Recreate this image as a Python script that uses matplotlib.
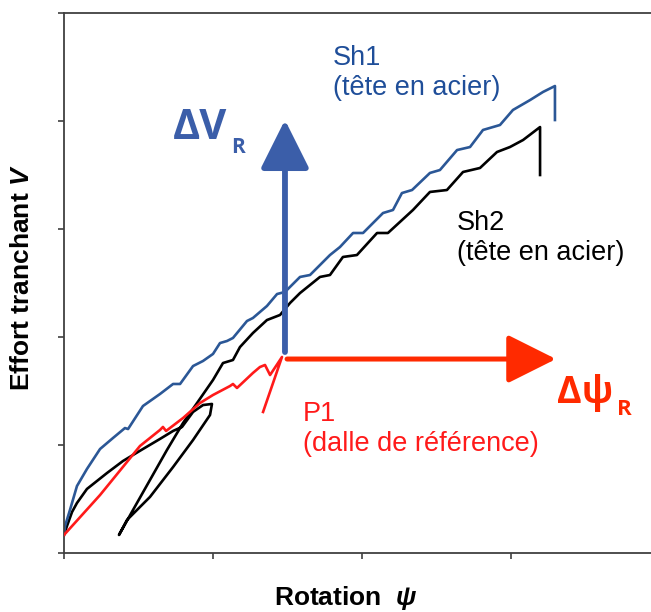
import matplotlib
matplotlib.use("Agg")
import matplotlib.pyplot as plt

plt.rcParams['font.family'] = ['Liberation Sans', 'DejaVu Sans']
plt.rcParams['mathtext.fontset'] = 'custom'
plt.rcParams['mathtext.rm'] = 'Liberation Sans'
plt.rcParams['mathtext.bf'] = 'Liberation Sans:bold'
plt.rcParams['mathtext.it'] = 'Liberation Sans:italic'
plt.rcParams['mathtext.bfit'] = 'Liberation Sans:bold:italic'

# courbes (rotation, effort) en unites de graduation
sh1_rot = [0.000, 0.007, 0.040, 0.087, 0.154, 0.242, 0.329, 0.409, 0.430, 0.530,
           0.644, 0.732, 0.779, 0.866, 0.933, 1.000, 1.047, 1.094, 1.134, 1.228,
           1.268, 1.362, 1.430, 1.483, 1.584, 1.651, 1.785, 1.852, 1.940, 2.007,
           2.141, 2.208, 2.268, 2.336, 2.456, 2.523, 2.638, 2.725, 2.812, 2.926,
           3.013, 3.128, 3.215, 3.295, 3.295]
sh1_eff = [0.167, 0.250, 0.398, 0.620, 0.778, 0.963, 1.065, 1.157, 1.148, 1.361,
           1.472, 1.565, 1.565, 1.731, 1.778, 1.843, 1.944, 1.963, 1.991, 2.148,
           2.176, 2.287, 2.398, 2.417, 2.556, 2.574, 2.759, 2.833, 2.963, 2.963,
           3.148, 3.176, 3.333, 3.361, 3.519, 3.546, 3.731, 3.759, 3.917, 3.963,
           4.102, 4.194, 4.269, 4.324, 4.009]

sh2_rot = [0.000, 0.020, 0.054, 0.087, 0.154, 0.289, 0.396, 0.530, 0.644, 0.732,
           0.792, 0.866, 0.933, 0.993, 0.980, 0.866, 0.732, 0.577, 0.423, 0.369,
           0.463, 0.577, 0.691, 0.799, 0.893, 1.000, 1.067, 1.134, 1.181, 1.268,
           1.362, 1.450, 1.517, 1.584, 1.718, 1.785, 1.872, 1.966, 2.101, 2.174,
           2.342, 2.456, 2.570, 2.678, 2.792, 2.906, 2.993, 3.081, 3.195, 3.195]
sh2_eff = [0.167, 0.250, 0.380, 0.463, 0.593, 0.741, 0.852, 0.963, 1.056, 1.130,
           1.167, 1.306, 1.370, 1.380, 1.278, 1.046, 0.796, 0.519, 0.306, 0.167,
           0.398, 0.676, 0.954, 1.204, 1.389, 1.602, 1.759, 1.787, 1.907, 2.037,
           2.157, 2.204, 2.315, 2.407, 2.556, 2.574, 2.741, 2.759, 2.963, 2.963,
           3.176, 3.343, 3.361, 3.528, 3.565, 3.713, 3.759, 3.824, 3.944, 3.500]

p1_rot = [0.000, 0.242, 0.510, 0.644, 0.664, 0.685, 0.799, 0.913, 1.000, 1.114,
          1.134, 1.161, 1.268, 1.315, 1.349, 1.383, 1.463, 1.336]
p1_eff = [0.167, 0.537, 0.991, 1.139, 1.167, 1.130, 1.250, 1.389, 1.463, 1.546,
          1.565, 1.528, 1.667, 1.722, 1.741, 1.648, 1.815, 1.306]

# fleches delta
dv_start = (1.483, 1.861)
dv_end = (1.483, 4.010)
dpsi_start = (1.497, 1.796)
dpsi_end = (3.302, 1.796)

BLUE = '#2b5796'
BLUE_TXT = '#1f4e99'
BLUE_ARR = '#3b5ea9'
RED = '#ff1a1a'
RED_ARR = '#ff2a00'

W, H = 651, 612
fig = plt.figure(figsize=(W / 100, H / 100), dpi=100)
ax = fig.add_axes([64 / W, (H - 553) / H, (W - 64) / W, 540 / H])
ax.set_xlim(0, 587 / 149)
ax.set_ylim(0, 5)

for s in ['left', 'bottom', 'top']:
    ax.spines[s].set_color('#404040')
    ax.spines[s].set_linewidth(1.3)
ax.spines['right'].set_visible(False)
ax.set_xticks([0, 1, 2, 3])
ax.set_yticks([0, 1, 2, 3, 4, 5])
ax.tick_params(direction='out', length=4.5, width=1.2, color='#404040',
               labelbottom=False, labelleft=False)

ax.plot(p1_rot, p1_eff, color=RED, lw=1.9, zorder=3)
ax.plot(sh2_rot, sh2_eff, color='black', lw=1.9, zorder=2)
ax.plot(sh1_rot, sh1_eff, color=BLUE, lw=1.9, zorder=2)

ax.annotate('', xy=dv_end, xytext=dv_start,
            arrowprops=dict(arrowstyle='-|>,head_length=1.0,head_width=0.5',
                            mutation_scale=30, lw=4.2, color=BLUE_ARR,
                            shrinkA=0, shrinkB=0))
ax.annotate('', xy=dpsi_end, xytext=dpsi_start,
            arrowprops=dict(arrowstyle='-|>,head_length=1.0,head_width=0.5',
                            mutation_scale=30, lw=3.6, color=RED_ARR,
                            shrinkA=0, shrinkB=0))


def px(x, y):
    return x / W, 1 - y / H


big = ['Open Sans', 'DejaVu Sans']
fig.text(*px(173, 139), 'ΔV', color=BLUE_ARR, fontsize=30, fontweight='bold',
         family=big, va='baseline')
fig.text(*px(231, 153), 'R', color=BLUE_ARR, fontsize=15, fontweight='bold',
         family=big, va='baseline')
fig.text(*px(557, 403), 'Δψ', color=RED_ARR, fontsize=27, fontweight='bold',
         family=big, va='baseline')
fig.text(*px(617, 415), 'R', color=RED_ARR, fontsize=16, fontweight='bold',
         family=big, va='baseline')

fig.text(*px(333, 95), 'Sh1\n(tête en acier)', color=BLUE_TXT, fontsize=19.5,
         va='baseline', linespacing=1.2)
fig.text(*px(457, 260), 'Sh2\n(tête en acier)', color='black', fontsize=19.5,
         va='baseline', linespacing=1.2)
fig.text(*px(303, 451), 'P1\n(dalle de référence)', color=RED, fontsize=19.5,
         va='baseline', linespacing=1.2)

fig.text(*px(346, 598), r'Rotation  $\mathbfit{ψ}$', fontsize=19,
         fontweight='bold', ha='center', va='center')
fig.text(*px(22, 278), r'Effort tranchant $\mathbfit{V}$', fontsize=19,
         fontweight='bold', rotation=90, ha='center', va='center')

fig.savefig('out.png', dpi=100)
